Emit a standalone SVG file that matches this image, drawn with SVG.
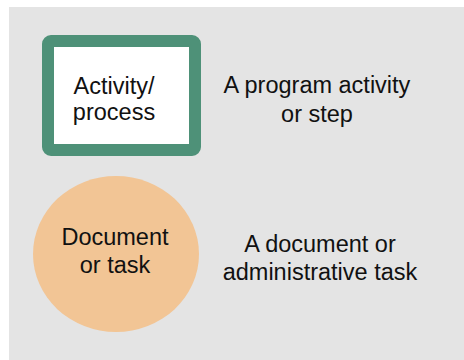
<svg xmlns="http://www.w3.org/2000/svg" width="464" height="360" viewBox="0 0 464 360">
<style>
text{font-family:"Liberation Sans",Arial,sans-serif;font-size:23.5px;fill:#111;text-anchor:middle}
</style>
<rect x="9" y="7" width="455" height="353" fill="#e4e4e4"/>
<g id="activity">
<rect x="48" y="41" width="147" height="109" rx="3" fill="#fff" stroke="#4e9178" stroke-width="12"/>
<text x="114" y="94">Activity/</text>
<text x="114" y="120">process</text>
</g>
<g id="activity-desc">
<text x="317" y="93">A program activity</text>
<text x="317" y="122">or step</text>
</g>
<g id="document">
<ellipse cx="116" cy="254" rx="83" ry="78" fill="#f2c595"/>
<text x="115" y="245">Document</text>
<text x="115" y="273">or task</text>
</g>
<g id="document-desc">
<text x="320" y="252">A document or</text>
<text x="320" y="280">administrative task</text>
</g>
<g id="connectors"></g>
</svg>
